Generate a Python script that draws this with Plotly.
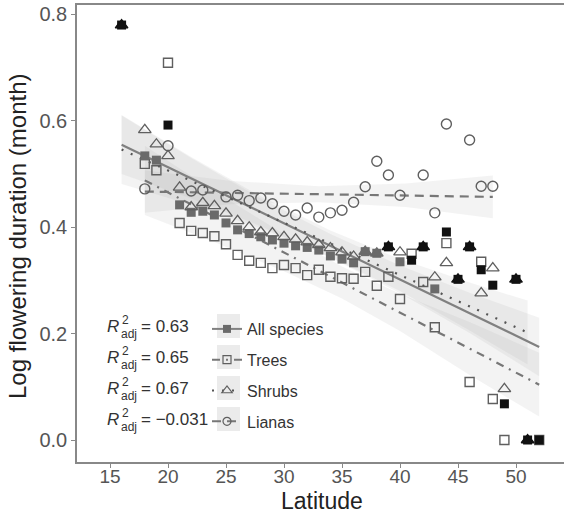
import plotly.graph_objects as go

# ---------------- data ----------------
lat_all = [16, 18, 19, 20, 21, 22, 23, 24, 25, 26, 27, 28, 29, 30, 31, 32, 33, 34, 35, 36,
           37, 38, 39, 40, 41, 42, 43, 44, 45, 46, 47, 48, 49, 50, 51, 52]
val_all = [0.78, 0.534, 0.526, 0.592, 0.442, 0.428, 0.43, 0.423, 0.408, 0.395, 0.388, 0.382,
           0.376, 0.37, 0.365, 0.362, 0.357, 0.346, 0.34, 0.333, 0.354, 0.351, 0.363, 0.335,
           0.338, 0.363, 0.284, 0.391, 0.302, 0.363, 0.32, 0.291, 0.068, 0.302, 0.0, 0.0]
dark_lats = [16, 20, 39, 41, 42, 44, 45, 46, 47, 48, 49, 50, 51, 52]

lat_trees = [18, 19, 20, 21, 22, 23, 24, 25, 26, 27, 28, 29, 30, 31, 32, 33, 34, 35, 36, 37,
             38, 39, 40, 41, 42, 43, 44, 46, 47, 48, 49, 52]
val_trees = [0.519, 0.507, 0.709, 0.408, 0.393, 0.389, 0.383, 0.368, 0.348, 0.337, 0.333, 0.323,
             0.329, 0.323, 0.31, 0.32, 0.307, 0.304, 0.303, 0.316, 0.29, 0.307, 0.265, 0.35,
             0.297, 0.212, 0.37, 0.109, 0.335, 0.077, 0.0, 0.0]

lat_shrubs = [16, 18, 19, 20, 21, 22, 23, 24, 25, 26, 27, 28, 29, 30, 31, 32, 33, 34, 35, 36,
              37, 38, 39, 40, 42, 43, 44, 45, 46, 47, 48, 49, 50, 51]
val_shrubs = [0.78, 0.583, 0.556, 0.534, 0.475, 0.438, 0.446, 0.44, 0.426, 0.412, 0.40, 0.391,
              0.389, 0.382, 0.377, 0.372, 0.367, 0.361, 0.353, 0.345, 0.354, 0.351, 0.363, 0.353,
              0.363, 0.306, 0.333, 0.302, 0.363, 0.276, 0.323, 0.096, 0.302, 0.0]

lat_lianas = [18, 20, 22, 23, 25, 26, 27, 28, 29, 30, 31, 32, 33, 34, 35, 36, 37, 38, 39, 40,
              42, 43, 44, 46, 47, 48]
val_lianas = [0.472, 0.553, 0.468, 0.47, 0.457, 0.46, 0.45, 0.455, 0.444, 0.43, 0.423, 0.436,
              0.419, 0.427, 0.432, 0.447, 0.476, 0.524, 0.498, 0.46, 0.498, 0.427, 0.594, 0.564,
              0.477, 0.477]

# fitted lines and confidence bands
fit_all_x = [16, 52]
fit_all_y = [0.555, 0.175]
band_all_x = [16, 22, 28, 34, 40, 46, 52]
band_all_hi = [0.610, 0.530, 0.454, 0.387, 0.328, 0.277, 0.230]
band_all_lo = [0.500, 0.454, 0.402, 0.343, 0.276, 0.201, 0.120]

fit_trees_x = [18, 52]
fit_trees_y = [0.488, 0.104]
band_trees_x = [18, 24, 30, 35, 40, 46, 52]
band_trees_hi = [0.553, 0.468, 0.387, 0.326, 0.275, 0.222, 0.164]
band_trees_lo = [0.423, 0.372, 0.317, 0.266, 0.205, 0.122, 0.044]

fit_shrubs_x = [16, 51]
fit_shrubs_y = [0.546, 0.202]
band_shrubs_x = [16, 22, 28, 34, 40, 46, 51]
band_shrubs_hi = [0.611, 0.532, 0.458, 0.394, 0.340, 0.296, 0.262]
band_shrubs_lo = [0.481, 0.442, 0.398, 0.344, 0.280, 0.206, 0.142]

fit_lianas_x = [18, 48]
fit_lianas_y = [0.467, 0.457]
band_lianas_x = [18, 25.5, 33, 40.5, 48]
band_lianas_hi = [0.507, 0.487, 0.477, 0.482, 0.497]
band_lianas_lo = [0.427, 0.443, 0.447, 0.438, 0.417]

series_names = ["All species", "Trees", "Shrubs", "Lianas"]
r2_labels = ["0.63", "0.65", "0.67", "\u22120.031"]

x_ticks = [15, 20, 25, 30, 35, 40, 45, 50]
y_ticks = [0.0, 0.2, 0.4, 0.6, 0.8]

# ---------------- layout geometry ----------------
W, H = 564, 517
ML, MR, MT, MB = 77, 0, 5, 55
PW, PH = W - ML - MR, H - MT - MB
FONT = "Liberation Sans, Arial, sans-serif"


def px(x):
    return (x - ML) / PW


def py(y):
    return (H - MB - y) / PH


LINE_COL = "#808080"
PT_COL = "#5f5f5f"
GRAY_FILL = "#6a6a6a"
DARK_FILL = "#111111"
BAND = "rgba(175,175,175,0.15)"

fig = go.Figure()

# confidence bands
for bx, lo, hi in [(band_lianas_x, band_lianas_lo, band_lianas_hi),
                   (band_trees_x, band_trees_lo, band_trees_hi),
                   (band_shrubs_x, band_shrubs_lo, band_shrubs_hi),
                   (band_all_x, band_all_lo, band_all_hi)]:
    fig.add_trace(go.Scatter(x=bx + bx[::-1], y=hi + lo[::-1], fill="toself",
                             fillcolor=BAND, line=dict(width=0), mode="lines",
                             hoverinfo="skip", showlegend=False))

dash_styles = {
    "All species": "solid",
    "Trees": "8px,6px,2px,6px",
    "Shrubs": "2px,8px",
    "Lianas": "9px,6px",
}
dot_col = {"All species": LINE_COL, "Trees": "#777777", "Shrubs": "#555555", "Lianas": "#777777"}

for name, fx, fy in [("Lianas", fit_lianas_x, fit_lianas_y),
                     ("Trees", fit_trees_x, fit_trees_y),
                     ("All species", fit_all_x, fit_all_y),
                     ("Shrubs", fit_shrubs_x, fit_shrubs_y)]:
    fig.add_trace(go.Scatter(x=fx, y=fy, mode="lines",
                             line=dict(color=dot_col[name], width=2.2, dash=dash_styles[name]),
                             hoverinfo="skip", showlegend=False))

# points
fig.add_trace(go.Scatter(x=lat_lianas, y=val_lianas, mode="markers", showlegend=False,
                         marker=dict(symbol="circle-open", size=10, color=PT_COL,
                                     line=dict(width=1.4, color=PT_COL))))
fig.add_trace(go.Scatter(x=lat_trees, y=val_trees, mode="markers", showlegend=False,
                         marker=dict(symbol="square-open", size=9, color=PT_COL,
                                     line=dict(width=1.4, color=PT_COL))))

all_colors = [DARK_FILL if la in dark_lats else GRAY_FILL for la in lat_all]
fig.add_trace(go.Scatter(x=lat_all, y=val_all, mode="markers", showlegend=False,
                         marker=dict(symbol="square", size=9, color=all_colors,
                                     line=dict(width=0))))

all_lookup = dict(zip(lat_all, val_all))
shr_sym, shr_col = [], []
for la, v in zip(lat_shrubs, val_shrubs):
    if la in all_lookup and abs(all_lookup[la] - v) < 1e-9:
        shr_sym.append("triangle-up")
        shr_col.append(DARK_FILL if la in dark_lats else GRAY_FILL)
    else:
        shr_sym.append("triangle-up-open")
        shr_col.append(PT_COL)
fig.add_trace(go.Scatter(x=lat_shrubs, y=val_shrubs, mode="markers", showlegend=False,
                         marker=dict(symbol=shr_sym, size=11, color=shr_col,
                                     line=dict(width=1.3, color=shr_col))))

# legend entries
leg_marker = {
    "All species": dict(symbol="square", size=8, color=GRAY_FILL),
    "Trees": dict(symbol="square-open", size=8, color=PT_COL, line=dict(width=1.2, color=PT_COL)),
    "Shrubs": dict(symbol="triangle-up-open", size=9, color=PT_COL, line=dict(width=1.2, color=PT_COL)),
    "Lianas": dict(symbol="circle-open", size=8, color=PT_COL, line=dict(width=1.2, color=PT_COL)),
}
for i, name in enumerate(series_names):
    fig.add_trace(go.Scatter(x=[None], y=[None], mode="lines+markers", name=name,
                             legendgroup=name, marker=leg_marker[name],
                             line=dict(color=dot_col[name], width=2, dash=dash_styles[name])))

# legend key backgrounds and R^2 labels
shapes = []
annotations = []
row_y = [326, 357, 388, 419]
TXT = "#333333"
for i, yc in enumerate(row_y):
    shapes.append(dict(type="rect", xref="paper", yref="paper", layer="below",
                       x0=px(217), x1=px(240), y0=py(yc + 12), y1=py(yc - 12),
                       fillcolor="#ebebeb", line=dict(width=0)))
    annotations.append(dict(xref="paper", yref="paper", x=px(113), y=py(yc), text="<i>R</i>",
                            showarrow=False, xanchor="center", yanchor="middle",
                            font=dict(family=FONT, size=17, color=TXT)))
    annotations.append(dict(xref="paper", yref="paper", x=px(125), y=py(yc - 6), text="2",
                            showarrow=False, xanchor="center", yanchor="middle",
                            font=dict(family=FONT, size=12, color=TXT)))
    annotations.append(dict(xref="paper", yref="paper", x=px(129), y=py(yc + 8), text="adj",
                            showarrow=False, xanchor="center", yanchor="middle",
                            font=dict(family=FONT, size=12, color=TXT)))
    annotations.append(dict(xref="paper", yref="paper", x=px(139), y=py(yc), text="= " + r2_labels[i],
                            showarrow=False, xanchor="left", yanchor="middle",
                            font=dict(family=FONT, size=17, color=TXT)))

# axis titles
annotations.append(dict(xref="paper", yref="paper", x=px(322), y=py(501), text="Latitude",
                        showarrow=False, xanchor="center", yanchor="middle",
                        font=dict(family=FONT, size=23, color="#222222")))
annotations.append(dict(xref="paper", yref="paper", x=px(18), y=py(236),
                        text="Log flowering duration (month)", textangle=-90,
                        showarrow=False, xanchor="center", yanchor="middle",
                        font=dict(family=FONT, size=24, color="#222222")))

x_range = [15 - (110 - ML) / 11.6, 15 + (W - MR - 110) / 11.6]
y_range = [(440 - (H - MB)) / 532, (440 - MT) / 532]

fig.update_layout(
    width=W, height=H,
    margin=dict(l=ML, r=MR, t=MT, b=MB, pad=0, autoexpand=False),
    paper_bgcolor="white", plot_bgcolor="white",
    font=dict(family=FONT, color=TXT),
    showlegend=True,
    legend=dict(x=px(207), y=py(312), xanchor="left", yanchor="top",
                bgcolor="rgba(0,0,0,0)", font=dict(family=FONT, size=16, color=TXT),
                tracegroupgap=7, itemwidth=30, traceorder="grouped"),
    shapes=shapes,
    annotations=annotations,
    xaxis=dict(range=x_range, tickmode="array", tickvals=x_ticks,
               ticktext=[str(t) for t in x_ticks], automargin=False,
               showgrid=False, zeroline=False, showline=True, linecolor="#888888",
               linewidth=1.5, mirror=True, ticks="outside", ticklen=4, tickcolor="#888888",
               ticklabelstandoff=-8,
               tickfont=dict(family=FONT, size=19, color="#555555")),
    yaxis=dict(range=y_range, tickmode="array", tickvals=y_ticks,
               ticktext=["%.1f" % t for t in y_ticks], automargin=False,
               showgrid=False, zeroline=False, showline=True, linecolor="#888888",
               linewidth=1.5, mirror=False, ticks="outside", ticklen=4, tickcolor="#888888",
               tickfont=dict(family=FONT, size=20, color="#555555")),
)

fig.write_html("out.html", config={"displayModeBar": False},
               post_script="document.body.style.margin='0px';document.body.style.padding='0px';")
